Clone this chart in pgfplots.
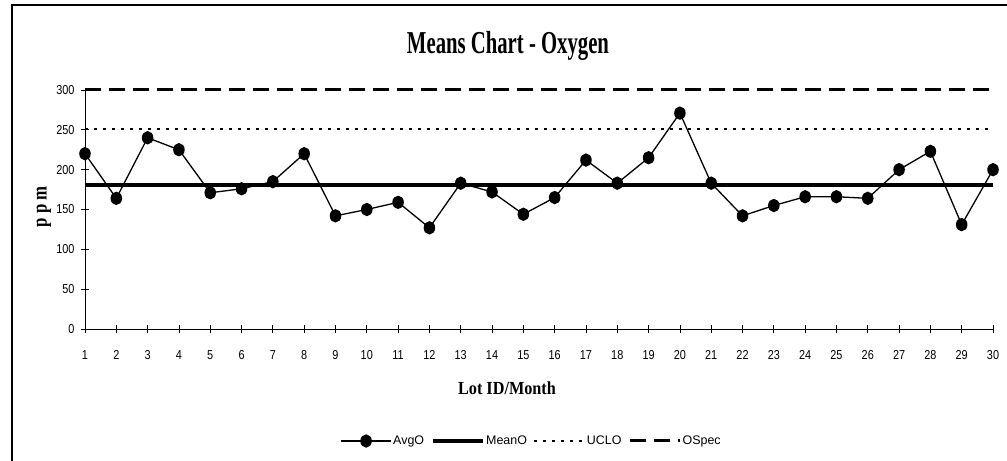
\documentclass[border=0pt]{standalone}
\usepackage{fontspec}
\setmainfont{Liberation Serif}
\newfontfamily\narrow{Liberation Sans}[FakeStretch=0.84]
\newfontfamily\legfont{Liberation Sans}
\newfontfamily\titlefont{Liberation Serif}[FakeStretch=0.65]
\newfontfamily\labfont{Liberation Serif}[FakeStretch=0.88]
\newfontfamily\ylabfont{Liberation Serif}[FakeStretch=0.8]
\usepackage{pgfplots}
\pgfplotsset{compat=1.18}
\begin{document}
\begin{tikzpicture}[x=1bp,y=1bp]
\path[use as bounding box] (0,0) rectangle (1007,461);
\draw[line width=2.2bp] (12,0) -- (12,456) -- (1007,456);
\node[anchor=base, font=\titlefont\bfseries\fontsize{32}{34}\selectfont] at (508,407) {Means Chart - Oxygen};
\node[anchor=base, font=\labfont\bfseries\fontsize{18.5}{20}\selectfont] at (507,66) {Lot ID/Month};
\node[rotate=90,font=\ylabfont\bfseries\fontsize{21}{22}\selectfont] at (44,254) {p p m};
\begin{axis}[
  at={(85bp,132bp)}, anchor=origin,
  scale only axis, width=908bp, height=239bp,
  xmin=1, xmax=30, ymin=0, ymax=300,
  axis lines=left, axis line style={line width=0.9bp, -},
  xtick={1,...,30}, ytick={0,50,...,300},
  tick align=center, major tick length=8bp,
  tick style={line width=0.8bp, black},
  /pgf/number format/assume math mode=true,
  tick label style={font=\narrow\fontsize{13}{14}\selectfont},
  xticklabel style={yshift=-14bp},
  yticklabel style={xshift=-3bp},
  clip=false,
  legend columns=4,
  legend style={draw=none, at={(0.4915,-0.4686)}, anchor=center, font=\legfont\fontsize{12.5}{13}\selectfont,
    nodes={inner xsep=1.5bp},
    /tikz/every even column/.append style={column sep=5bp}},
  legend image code/.code={\draw[#1, mark repeat=2, mark phase=2] plot coordinates {(0bp,0bp) (25bp,0bp) (50bp,0bp)};},
]
\addplot[black, line width=1.3bp, mark=*, mark size=6bp, mark options={solid, xscale=0.85}] coordinates {
(1,220) (2,164) (3,240) (4,225) (5,171) (6,176) (7,185) (8,220) (9,142) (10,150)
(11,159) (12,127) (13,183) (14,172) (15,144) (16,165) (17,212) (18,183) (19,215) (20,271)
(21,183) (22,142) (23,155) (24,166) (25,166) (26,164) (27,200) (28,223) (29,131) (30,200)};
\addlegendentry{AvgO}
\addplot[black, line width=4bp] coordinates {(1,181) (30,181)};
\addlegendentry{MeanO}
\addplot[black, line width=2bp, dash pattern=on 2.5bp off 6.5bp] coordinates {(1,251) (30,251)};
\addlegendentry{UCLO}
\addplot[black, line width=3bp, dash pattern=on 16bp off 8bp] coordinates {(1,300) (30,300)};
\addlegendentry{OSpec}
\end{axis}
\end{tikzpicture}
\end{document}
